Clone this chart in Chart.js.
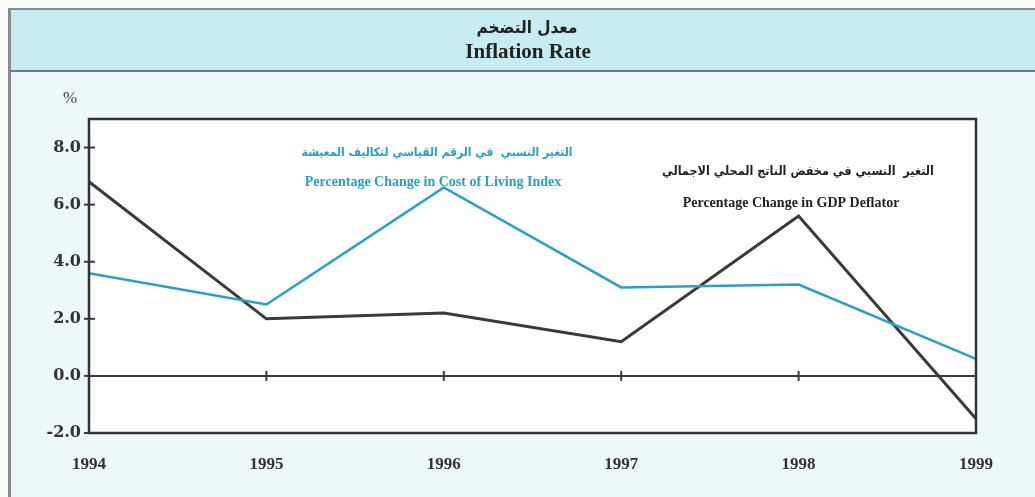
<!DOCTYPE html>
<html>
<head>
<meta charset="utf-8">
<script src="https://cdn.jsdelivr.net/npm/chart.js@4/dist/chart.umd.min.js"></script>
<style>
html,body{margin:0;padding:0;background:#eef8fa;}
canvas{display:block;}
</style>
</head>
<body>
<canvas id="c" width="1035" height="497"></canvas>
<script>
// ---- data ----
const years = ['1994', '1995', '1996', '1997', '1998', '1999'];
const cpiChange = [3.6, 2.5, 6.6, 3.1, 3.2, 0.6];
const gdpDeflatorChange = [6.8, 2.0, 2.2, 1.2, 5.6, -1.5];
const yTicks = [-2, 0, 2, 4, 6, 8];
const titleArabic = 'معدل التضخم';
const titleEnglish = 'Inflation Rate';
const cpiLabelArabic = 'التغير النسبي  في الرقم القياسي لتكاليف المعيشة';
const cpiLabelEnglish = 'Percentage Change in Cost of Living Index';
const gdpLabelArabic = 'التغير  النسبي في مخفض الناتج المحلي الاجمالي';
const gdpLabelEnglish = 'Percentage Change in GDP Deflator';
const unitLabel = '%';

const BLUE = '#2b9fc6';
const DARK = '#3a3a3a';
const SERIF = "'Liberation Serif', 'DejaVu Serif', serif";
const ARABIC = "'DejaVu Sans', 'Noto Sans', sans-serif";
const ARABIC_C = "'DejaVu Sans Condensed', 'DejaVu Sans', sans-serif";

const decor = {
  id: 'decor',
  beforeDraw(chart) {
    const ctx = chart.ctx, W = chart.width, H = chart.height;
    const a = chart.chartArea;
    ctx.save();
    ctx.fillStyle = '#fbfdfd';
    ctx.fillRect(0, 0, W, H);
    ctx.fillStyle = '#edf8fa';
    ctx.fillRect(10, 9, W - 10, H - 9);
    // header band
    ctx.fillStyle = '#c6ecf1';
    ctx.fillRect(10, 9, W - 10, 61);
    // borders
    ctx.fillStyle = '#8c8c8c';
    ctx.fillRect(8, 8, W - 8, 2);
    ctx.fillRect(8, 8, 3, H - 8);
    ctx.fillStyle = '#6f7a7c';
    ctx.fillRect(10, 70, W - 10, 2);
    // plot area
    ctx.fillStyle = '#ffffff';
    ctx.fillRect(a.left, a.top, a.right - a.left, a.bottom - a.top);
    // titles
    ctx.textAlign = 'center';
    ctx.textBaseline = 'middle';
    ctx.fillStyle = '#222';
    ctx.font = 'bold 17px ' + ARABIC_C;
    ctx.fillText(titleArabic, 527, 29);
    ctx.font = 'bold 21px ' + SERIF;
    ctx.fillText(titleEnglish, 528, 53);
    // unit
    ctx.font = '17px ' + SERIF;
    ctx.fillStyle = '#444';
    ctx.fillText(unitLabel, 70, 99);
    ctx.restore();
  },
  beforeDatasetsDraw(chart) {
    const ctx = chart.ctx, a = chart.chartArea;
    const xs = chart.scales.x, ys = chart.scales.y;
    ctx.save();
    ctx.strokeStyle = '#3a3a3a';
    ctx.lineWidth = 2;
    const y0 = ys.getPixelForValue(0);
    ctx.beginPath();
    ctx.moveTo(a.left, y0);
    ctx.lineTo(a.right, y0);
    ctx.stroke();
    // x tick marks on zero line
    for (let i = 1; i < years.length - 1; i++) {
      const x = xs.getPixelForValue(i);
      ctx.beginPath();
      ctx.moveTo(x, y0 - 5);
      ctx.lineTo(x, y0 + 5);
      ctx.stroke();
    }
    // y tick marks crossing axis
    yTicks.forEach(v => {
      const y = ys.getPixelForValue(v);
      ctx.beginPath();
      ctx.moveTo(a.left - 5, y);
      ctx.lineTo(a.left + 6, y);
      ctx.stroke();
    });
    // series labels
    ctx.textAlign = 'center';
    ctx.textBaseline = 'middle';
    ctx.fillStyle = BLUE;
    ctx.font = 'bold 12px ' + ARABIC_C;
    ctx.fillText(cpiLabelArabic, 437, 153);
    ctx.font = 'bold 14px ' + SERIF;
    ctx.fillText(cpiLabelEnglish, 433, 182);
    ctx.fillStyle = '#222';
    ctx.font = 'bold 12.5px ' + ARABIC_C;
    ctx.fillText(gdpLabelArabic, 798, 172);
    ctx.font = 'bold 14px ' + SERIF;
    ctx.fillText(gdpLabelEnglish, 791, 203);
    ctx.restore();
  },
  afterDraw(chart) {
    const ctx = chart.ctx, a = chart.chartArea;
    ctx.save();
    ctx.strokeStyle = '#333';
    ctx.lineWidth = 2.5;
    ctx.strokeRect(a.left, a.top, a.right - a.left, a.bottom - a.top);
    ctx.restore();
  }
};

new Chart(document.getElementById('c'), {
  type: 'line',
  data: {
    labels: years,
    datasets: [
      { label: cpiLabelEnglish, data: cpiChange, borderColor: BLUE, borderWidth: 2.5, pointRadius: 0, tension: 0, fill: false },
      { label: gdpLabelEnglish, data: gdpDeflatorChange, borderColor: DARK, borderWidth: 3, pointRadius: 0, tension: 0, fill: false }
    ]
  },
  options: {
    responsive: false,
    animation: false,
    layout: { padding: { left: 0, top: 119, right: 59, bottom: 0 } },
    plugins: { legend: { display: false }, tooltip: { enabled: false }, title: { display: false } },
    scales: {
      x: {
        type: 'category',
        offset: false,
        grid: { display: false, drawTicks: false },
        border: { display: false },
        ticks: { color: '#333', font: { family: SERIF, size: 17, weight: 'bold' }, padding: 21, maxRotation: 0, autoSkip: false },
        afterFit(s) { s.height = 64; }
      },
      y: {
        min: -2, max: 9,
        grid: { display: false, drawTicks: false },
        border: { display: false },
        afterBuildTicks(s) { s.ticks = yTicks.map(v => ({ value: v })); },
        ticks: { color: '#333', font: { family: "'DejaVu Serif', serif", size: 16, weight: 'bold' }, padding: 8,
                 callback: v => Number(v).toFixed(1) },
        afterFit(s) { s.width = 89; }
      }
    }
  },
  plugins: [decor]
});
</script>
</body>
</html>
